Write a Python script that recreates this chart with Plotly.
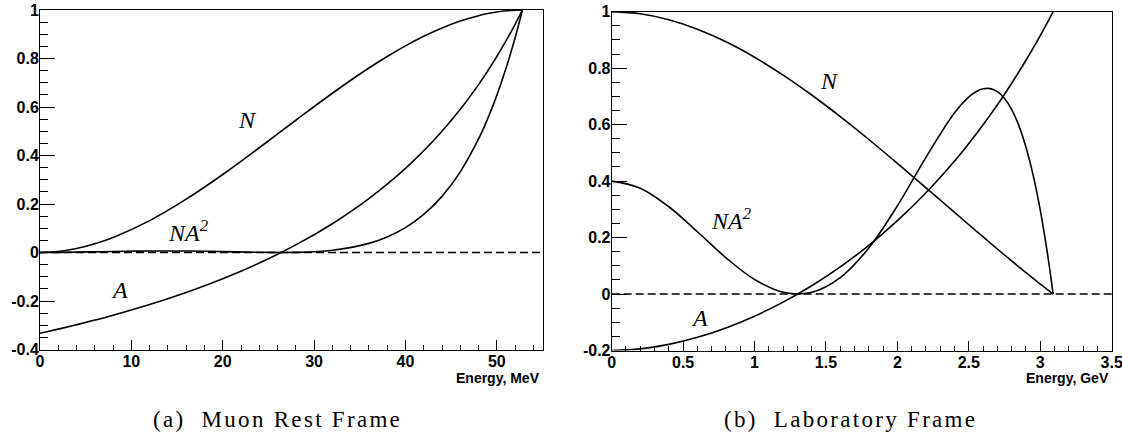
import plotly.graph_objects as go

# ---------------- data: (a) Muon Rest Frame ----------------
e_rest = [0, 2, 4, 6, 8, 12, 16, 20, 24, 28, 32, 36, 38, 40, 42, 44, 46, 48, 49, 50, 51, 52, 52.8]
n_rest = [0.0, 0.0041957, 0.01635, 0.035805, 0.06191, 0.13148, 0.21983, 0.32175, 0.43201,
          0.5454, 0.65671, 0.76071, 0.80834, 0.85219, 0.8916, 0.92593, 0.95451, 0.97671,
          0.9852, 0.99186, 0.9966, 0.99931, 1.0]
a_rest = [-0.33333, -0.316062, -0.2979, -0.278689, -0.2584, -0.21429, -0.16456, -0.10811,
          -0.04348, 0.03125, 0.11864, 0.22222, 0.28155, 0.34694, 0.41935, 0.5, 0.59036,
          0.69231, 0.74834, 0.80822, 0.87234, 0.94118, 1.0]
na2_rest = [0.0, 0.000419, 0.00145, 0.002781, 0.004135, 0.006037, 0.005953, 0.00376, 0.000817,
            0.000533, 0.009244, 0.037566, 0.064075, 0.10257, 0.15679, 0.23148, 0.33267,
            0.46812, 0.55174, 0.6479, 0.7584, 0.88521, 1.0]

# ---------------- data: (b) Laboratory Frame ----------------
e_lab = [0, 0.2, 0.4, 0.6, 0.8, 1.0, 1.2, 1.4, 1.6, 1.8, 2.0, 2.2, 2.4, 2.5, 2.55, 2.6, 2.65,
         2.7, 2.75, 2.8, 2.85, 2.9, 2.95, 3.0, 3.05, 3.07, 3.09]
n_lab = [1.0, 0.992686, 0.971556, 0.93799, 0.893231, 0.838596, 0.775388, 0.704907,
         0.628462, 0.547339, 0.462845, 0.376291, 0.28897, 0.245432, 0.223762, 0.202188,
         0.18073, 0.159407, 0.138237, 0.117247, 0.096449, 0.075869, 0.055526, 0.035441,
         0.015633, 0.0077913, 0.0]
a_lab = [-0.2, -0.194317, -0.178377, -0.153356, -0.119917, -0.078359, -0.028687,
         0.02935, 0.096237, 0.172706, 0.259767, 0.358725, 0.471281, 0.533311, 0.565904,
         0.599609, 0.634452, 0.670512, 0.707832, 0.746472, 0.786488, 0.82795, 0.870933,
         0.9155, 0.961748, 0.98073, 1.0]
na2_lab = [0.4, 0.37483, 0.30913, 0.2206, 0.12845, 0.051491, 0.006381, 0.006072,
           0.058206, 0.16325, 0.31232, 0.48423, 0.64182, 0.69806, 0.71659, 0.72693, 0.72749,
           0.71667, 0.6926, 0.65332, 0.59659, 0.52008, 0.42118, 0.29705, 0.1446, 0.074939, 0.0]

# ---------------- axes / labels ----------------
rest_xticks = [0, 10, 20, 30, 40, 50]
rest_xtext = ["0", "10", "20", "30", "40", "50"]
rest_yticks = [-0.4, -0.2, 0, 0.2, 0.4, 0.6, 0.8, 1]
rest_ytext = ["-0.4", "-0.2", "0", "0.2", "0.4", "0.6", "0.8", "1"]
lab_xticks = [0, 0.5, 1, 1.5, 2, 2.5, 3, 3.5]
lab_xtext = ["0", "0.5", "1", "1.5", "2", "2.5", "3", "3.5"]
lab_yticks = [-0.2, 0, 0.2, 0.4, 0.6, 0.8, 1]
lab_ytext = ["-0.2", "0", "0.2", "0.4", "0.6", "0.8", "1"]

W, H = 1122, 438


def fx(px):
    return px / W


def fy(py):
    return 1 - py / H


LINE = dict(color="black", width=1.6, shape="spline", smoothing=1.0)

fig = go.Figure()
for ys in (n_rest, a_rest, na2_rest):
    fig.add_trace(go.Scatter(x=e_rest, y=ys, mode="lines", line=LINE, cliponaxis=True,
                             xaxis="x", yaxis="y", showlegend=False, hoverinfo="skip"))
for ys in (n_lab, a_lab, na2_lab):
    fig.add_trace(go.Scatter(x=e_lab, y=ys, mode="lines", line=LINE, cliponaxis=True,
                             xaxis="x2", yaxis="y2", showlegend=False, hoverinfo="skip"))

tickfont = dict(family="Liberation Sans, Arial, sans-serif", size=16, color="black")


def bold(lst):
    return ["<b>" + s + "</b>" for s in lst]


def xax(domain, rng, tv, tt, minor_d, anchor):
    return dict(domain=domain, range=rng, anchor=anchor, tickmode="array", tickvals=tv, ticktext=bold(tt),
                ticks="inside", ticklen=10, tickwidth=1, tickcolor="black",
                minor=dict(tickmode="linear", tick0=0, dtick=minor_d, ticks="inside", ticklen=5,
                           tickcolor="black", tickwidth=1, showgrid=False),
                showline=True, linecolor="black", linewidth=1, mirror=True, automargin=False,
                ticklabeloverflow="allow",
                showgrid=False, zeroline=False, tickfont=tickfont, ticklabelstandoff=-3)


def yax(domain, rng, tv, tt, minor_d, anchor):
    return dict(domain=domain, range=rng, anchor=anchor, tickmode="array", tickvals=tv, ticktext=bold(tt),
                ticks="inside", ticklen=15, tickwidth=1, tickcolor="black",
                minor=dict(tickmode="linear", tick0=0, dtick=minor_d, ticks="inside", ticklen=8,
                           tickcolor="black", tickwidth=1, showgrid=False),
                showline=True, linecolor="black", linewidth=1, mirror=True, automargin=False,
                ticklabeloverflow="allow",
                showgrid=False, zeroline=False, tickfont=tickfont, ticklabelstandoff=-3)


fig.update_layout(
    width=W, height=H,
    margin=dict(l=0, r=0, t=0, b=0, pad=0, autoexpand=False),
    paper_bgcolor="white", plot_bgcolor="white",
    xaxis=xax([fx(40), fx(542.5)], [0, 55], rest_xticks, rest_xtext, 2, "y"),
    yaxis=yax([fy(349.5), fy(10)], [-0.4, 1], rest_yticks, rest_ytext, 0.05, "x"),
    xaxis2=xax([fx(611.7), fx(1111.7)], [0, 3.5], lab_xticks, lab_xtext, 0.1, "y2"),
    yaxis2=yax([fy(350.5), fy(11.7)], [-0.2, 1], lab_yticks, lab_ytext, 0.05, "x2"),
)

# dashed zero lines
for xr, yr in (("x domain", "y"), ("x2 domain", "y2")):
    fig.add_shape(type="line", xref=xr, yref=yr, x0=0, x1=1, y0=0, y1=0,
                  line=dict(color="black", width=1.6, dash="8px,4px"))

# curve labels
lab_font = dict(family="Liberation Serif, Times New Roman, serif", size=24, color="black", style="italic")
curve_labels = [
    ("x", "y", 22.66, 0.546, "N"),
    ("x", "y", 16.2, 0.09, "NA<sup>2</sup>"),
    ("x", "y", 8.7, -0.155, "A"),
    ("x2", "y2", 1.528, 0.756, "N"),
    ("x2", "y2", 0.842, 0.265, "NA<sup>2</sup>"),
    ("x2", "y2", 0.618, -0.085, "A"),
]
for xr, yr, x, y, t in curve_labels:
    fig.add_annotation(xref=xr, yref=yr, x=x, y=y, text=t, showarrow=False, font=lab_font,
                       xanchor="center", yanchor="middle")

# axis titles
title_font = dict(family="Liberation Sans, Arial, sans-serif", size=14, color="black")
fig.add_annotation(xref="paper", yref="paper", x=fx(541.7), y=fy(377.5), text="<b>Energy, MeV</b>",
                   showarrow=False, font=title_font, xanchor="right", yanchor="middle")
fig.add_annotation(xref="paper", yref="paper", x=fx(1111.0), y=fy(377.5), text="<b>Energy, GeV</b>",
                   showarrow=False, font=title_font, xanchor="right", yanchor="middle")

# captions
cap_font = dict(family="Liberation Serif, Times New Roman, serif", size=23, color="black")
for cx, t in ((277.5, "(a)\u00a0 Muon Rest Frame"), (850.0, "(b)\u00a0 Laboratory Frame")):
    fig.add_annotation(xref="paper", yref="paper", x=fx(cx), y=fy(419),
                       text='<span style="letter-spacing:2.3px">' + t + '</span>',
                       showarrow=False, font=cap_font, xanchor="center", yanchor="middle")

# the page's default body margin would offset the 1122x438 figure inside the window
fig.write_html("out.html", config={"displayModeBar": False},
               post_script="document.body.style.margin='0px';")
